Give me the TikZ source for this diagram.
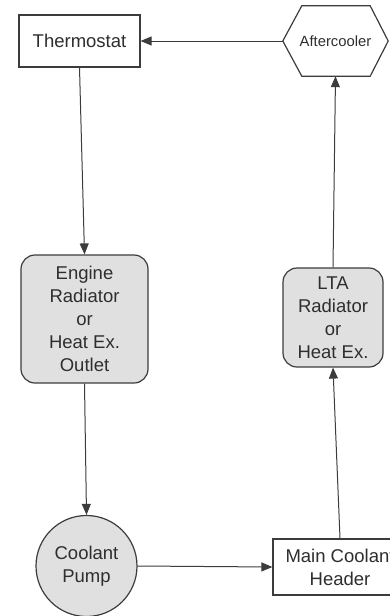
\documentclass[tikz,border=0pt]{standalone}
\usepackage{fontspec}
\setmainfont{Liberation Sans}
\usepackage{tikz}
\usetikzlibrary{arrows.meta}
\usepackage{xcolor}
\definecolor{linegray}{HTML}{3C3C3C}
\definecolor{boxgray}{HTML}{E0E0E0}
\definecolor{textgray}{HTML}{2E2E2E}

\tikzset{
    plainbox/.style={draw=linegray, line width=1.2pt, fill=white, inner sep=0pt, align=center,
        text=textgray, font=\fontsize{18.5}{23}\selectfont},
    greybox/.style={plainbox, fill=boxgray, rounded corners=14pt},
    flow/.style={draw=linegray, line width=1pt, -{Triangle[length=11pt,width=9pt]}}
}

\begin{document}
\begin{tikzpicture}[x=1pt, y=-1pt]
        \useasboundingbox (0,0) rectangle (390,616);
        \clip (0,0) rectangle (390,616);

        \node[plainbox, minimum width=121pt, minimum height=52pt] (thermo) at (79.5,41) {Thermostat};
        \node[inner sep=0pt, minimum width=105pt, minimum height=70pt, text=textgray,
            font=\fontsize{14.8}{17}\selectfont] (after) at (335.5,41) {Aftercooler};
        \draw[linegray, line width=1.2pt] (after.west) -- ([xshift=19pt]after.north west)
            -- ([xshift=-18pt]after.north east) -- (after.east)
            -- ([xshift=-18pt]after.south east) -- ([xshift=19pt]after.south west) -- cycle;

        \node[greybox, minimum width=127pt, minimum height=128pt] (engine) at (84.5,319)
            {Engine\\Radiator\\or\\Heat Ex.\\Outlet};
        \node[greybox, minimum width=100pt, minimum height=99pt] (lta) at (333,317.5)
            {LTA\\Radiator\\or\\Heat Ex.};

        \node[plainbox, circle, fill=boxgray, minimum size=101pt] (pump) at (86.5,566)
            {Coolant\\Pump};
        \node[plainbox, minimum width=134pt, minimum height=56pt] (header) at (340,567)
            {Main Coolant\\Header};

        \draw[flow] (after.west) -- (thermo.east);
        \draw[flow] (thermo.south) -- (engine.north);
        \draw[flow] (engine.south) -- (pump.north);
        \draw[flow] (pump.east) -- (header.west);
        \draw[flow] (header.north) -- (lta.south);
        \draw[flow] (lta.north) -- (after.south);
    \end{tikzpicture}
\end{document}
